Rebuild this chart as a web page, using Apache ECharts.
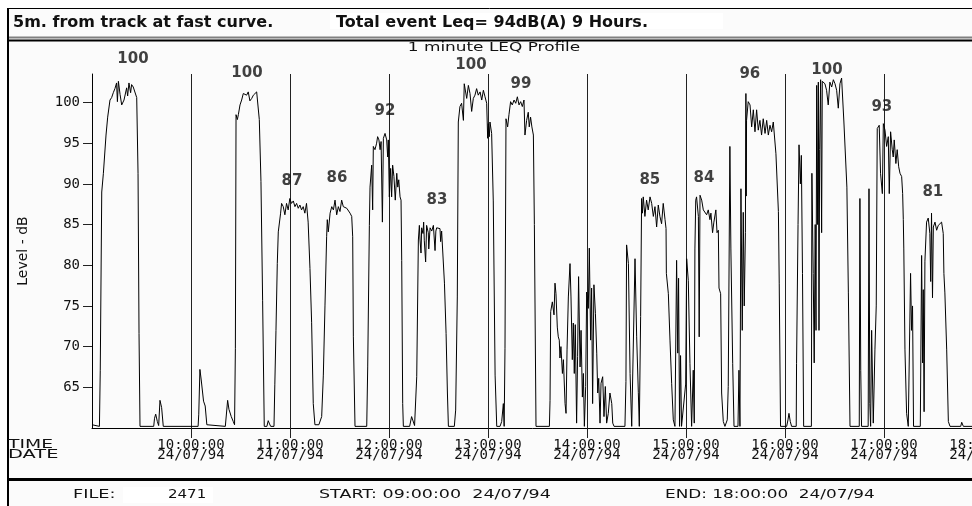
<!DOCTYPE html>
<html>
<head>
<meta charset="utf-8">
<title>1 minute LEQ Profile</title>
<script src="https://cdn.jsdelivr.net/npm/echarts@6/dist/echarts.min.js"></script>
<style>
	html, body { margin: 0; padding: 0; background: #fff; }
	#chart { width: 972px; height: 506px; }
</style>
</head>
<body>
<div id="chart"></div>
<script>
// minutes after 09:00:00, 1 minute Leq in dB(A)
const leqProfile = [
	[0, 60.4], [1, 60.2], [4.5, 60.2], [5, 67.1], [5.9, 89.0], [6.9, 91.3], [8.5, 96.0], [9.5, 98.2], [10.9, 100.3],
	[11.9, 100.6], [12.9, 101.2], [13.9, 101.7], [14.9, 102.4], [15.4, 100.1], [16, 102.6], [17, 101.0], [18, 99.7],
	[19.4, 100.3], [21, 101.8], [21.6, 100.8], [22.4, 102.4], [23.4, 101.2], [24, 102.2], [25, 101.9], [26, 101.8],
	[27.1, 100.6], [27.9, 91.3], [28.5, 71.6], [29.1, 60.2],
	[37.4, 60.2], [37.9, 61.2], [38.6, 61.7], [39.6, 60.8], [40.4, 60.3], [41.2, 63.4], [42.2, 62.5], [43.2, 60.2],
	[64.3, 60.2], [64.7, 61.7], [65.4, 67.2], [66.2, 65.9], [67.6, 63.3], [68.6, 62.7], [69.6, 60.4], [70.5, 60.2],
	[80.8, 60.2], [82.2, 63.4], [83.0, 62.3], [84.4, 61.4], [85.6, 60.8], [86.4, 60.4],
	[86.9, 69.8], [87.3, 98.5], [88.1, 97.9], [88.7, 98.5], [89.7, 99.7], [90.7, 100.3], [91.7, 101.1], [92.7, 101.3],
	[93.7, 100.9], [94.7, 101.3], [95.7, 100.2], [96.8, 100.5], [97.8, 100.9], [98.8, 101.1], [99.8, 101.3],
	[100.8, 101.5], [101.4, 97.9], [102.4, 90.3], [103.4, 75.7], [104.4, 60.2],
	[106, 60.2], [106.8, 60.9], [107.6, 60.5], [108.3, 60.2],
	[110.3, 60.2], [110.8, 65.3], [111.5, 72.0], [112.3, 80.2], [112.9, 84.1], [114.3, 86.4], [114.9, 87.6],
	[115.9, 87.2], [116.9, 86.2], [117.9, 87.6], [118.9, 86.8], [119.9, 88.2], [120.9, 87.6], [122, 87.9], [123, 87.2],
	[124, 87.6], [125, 87.0], [126, 87.4], [127, 86.8], [128, 87.2], [129, 86.4], [130, 87.6], [131, 85.3],
	[131.7, 85.3], [132.1, 79.6], [133.1, 73.0], [134.1, 63.0], [135.1, 60.4], [136, 60.2], [137.5, 60.4], [138.5, 60.2],
	[139.2, 61.4], [140.2, 66.5], [141.2, 75.0], [142.2, 83.5], [142.6, 85.6], [143.2, 84.1], [144.3, 86.4],
	[145.3, 87.2], [146.3, 86.8], [147.3, 88.0], [148.3, 86.2], [149.3, 87.2], [150.3, 86.6], [151.3, 88.0],
	[152.3, 87.2], [153.3, 87.4], [154.4, 87.0], [155.4, 86.8], [156.4, 86.4], [157.4, 86.0], [158.0, 83.5],
	[158.4, 71.2], [159.4, 60.2], [166.5, 60.2],
	[167.1, 67.5], [168.1, 84.9], [168.5, 89.6], [169.5, 92.3], [170.1, 86.8], [170.5, 94.6], [171.5, 94.2],
	[172.5, 95.0], [173.1, 95.8], [173.9, 95.4], [174.6, 94.2], [175.2, 95.2], [176.0, 85.3], [176.6, 95.6],
	[177.6, 96.2], [178.6, 95.4], [179.2, 93.3], [179.6, 95.4], [180.2, 88.4], [181.0, 91.9], [181.6, 88.4],
	[182.2, 92.3], [183.0, 90.9], [183.8, 88.0], [184.7, 91.3], [185.3, 89.6], [185.9, 90.5], [186.7, 88.4],
	[187.3, 88.0], [187.7, 80.6], [188.3, 63.0], [188.7, 60.2],
	[192.5, 60.2], [193.7, 61.4], [194.5, 61.2], [195.5, 60.3], [196.3, 60.2],
	[196.8, 66.3], [197.8, 83.1], [198.4, 84.9], [198.8, 83.1], [199.4, 81.5], [199.8, 84.6], [200.6, 83.9],
	[201.0, 85.3], [201.4, 83.0], [202.2, 80.4], [202.8, 84.9], [203.8, 84.0], [204.1, 82.0], [204.9, 84.6],
	[205.9, 84.2], [206.9, 84.9], [207.9, 81.8], [208.4, 84.2], [208.9, 84.6], [209.9, 84.4], [210.9, 84.5],
	[211.3, 82.9], [211.9, 84.2], [212.9, 84.0], [213.6, 77.8], [214.6, 71.6], [215.4, 64.3], [216, 60.2],
	[219.6, 60.2], [220.4, 62.2], [221.4, 76.1],
	[222, 97.6], [223, 99.5], [224, 99.9], [225.1, 97.8], [225.6, 102.3], [226.4, 102.1], [227.1, 100.5],
	[228.1, 102.1], [229.1, 101.1], [230.1, 98.9], [231.1, 100.5], [232.1, 100.9], [233.1, 101.7], [234.1, 100.9],
	[235.2, 101.3], [236.2, 100.3], [237.2, 101.5], [238.2, 100.7], [239.2, 99.9], [239.8, 95.6], [240.2, 97.4],
	[240.8, 95.8], [241.2, 97.6], [242.2, 96.2], [243.2, 87.9], [244.3, 66.5], [245.3, 60.2],
	[247.3, 60.2], [248.3, 60.8], [249.3, 63.0], [249.8, 60.2],
	[250.3, 69.8], [250.9, 98.0], [251.9, 97.0], [252.7, 98.5], [253.7, 100.1], [254.7, 99.7], [255.8, 100.3],
	[256.8, 99.9], [257.8, 100.7], [258.8, 99.7], [259.8, 100.1], [260.8, 99.5], [261.8, 100.3], [262.4, 96.0],
	[263.4, 97.8], [264.4, 98.8], [265.0, 97.0], [265.8, 98.2], [266.6, 97.0], [267.5, 96.0], [268.1, 85.0],
	[269.1, 60.2], [277.2, 60.2],
	[277.6, 63.4], [278.0, 74.3], [279.0, 75.5], [280.0, 73.9], [280.6, 77.8], [281.2, 76.5], [282.0, 72.4],
	[282.6, 71.2], [283.2, 70.8], [283.6, 68.6], [284.2, 70.0], [285.1, 66.7], [285.7, 68.4], [286.7, 63.0],
	[287.3, 61.8], [287.9, 69.6], [288.7, 76.1], [289.7, 80.2], [290.3, 76.1], [291.1, 68.4], [291.7, 72.9],
	[292.3, 66.7], [292.9, 72.7], [293.7, 60.6], [294.3, 68.8], [294.9, 78.6], [295.8, 67.5], [296.4, 72.0],
	[297.2, 63.8], [297.8, 66.7], [298.4, 60.2], [299.2, 65.1], [299.8, 76.7], [300.8, 74.7], [301.4, 82.1],
	[302.2, 70.8], [302.8, 77.2], [303.4, 63.0], [304.2, 77.6], [305.1, 74.1], [305.9, 69.2], [306.5, 64.3],
	[307.1, 66.1], [307.9, 60.6], [308.5, 65.5], [309.5, 66.3], [310.3, 61.4], [311.1, 65.1], [311.9, 60.6],
	[312.9, 61.8], [313.9, 64.3], [315.0, 63.0], [315.6, 60.6], [316.4, 60.2], [323.0, 60.2],
	[323.6, 65.7], [324.0, 82.5], [325.1, 80.2], [326.1, 66.7], [327.1, 60.2], [328.1, 60.2], [329.1, 80.8],
	[330.1, 71.2], [331.1, 64.4], [331.7, 60.2], [332.5, 73.7], [333.1, 88.2], [333.6, 86.4], [334.1, 88.4],
	[335.1, 86.0], [336.1, 88.0], [337.1, 86.8], [338.2, 88.4], [339.2, 87.6], [340.2, 86.0], [341.2, 87.2],
	[342.2, 84.7], [343.2, 87.4], [344.2, 86.0], [345.2, 85.1], [346.2, 87.6], [347.3, 85.6], [347.9, 84.5],
	[348.1, 79.0], [349.3, 76.5], [350.3, 70.8], [351.3, 65.5], [352.3, 61.0], [353.3, 60.2],
	[354.3, 80.6], [355.0, 69.2], [355.5, 78.4], [356.1, 60.2], [356.7, 68.9], [357.3, 60.2], [359.8, 65.4],
	[360.4, 80.8], [361.4, 78.1], [362.4, 67.9], [363.4, 60.2], [364.4, 67.1], [365.0, 60.6],
	[365.4, 82.0], [365.9, 88.0], [366.4, 88.4], [367.5, 86.0], [368.0, 71.2], [368.5, 88.6], [369.5, 88.0],
	[370.5, 86.8], [371.5, 86.6], [372.5, 86.2], [373.5, 86.8], [374.5, 85.6], [375.1, 86.4], [376.1, 84.0],
	[376.9, 85.3], [378.1, 86.8], [378.8, 84.0], [379.6, 84.3], [380.0, 77.2], [381.0, 76.5], [381.6, 64.3],
	[382.6, 60.8], [383.6, 60.2],
	[385.0, 61.0], [385.6, 65.1], [386.6, 94.6], [387.2, 82.0], [388.3, 67.9], [389.1, 60.2], [391.5, 60.2],
	[392.1, 67.1], [392.7, 60.2], [393.3, 89.4], [394.1, 72.0], [394.7, 86.5], [395.3, 75.0], [396.0, 84.0],
	[396.3, 101.1], [396.5, 88.5], [396.7, 97.8], [397.7, 100.1], [398.8, 99.7], [399.8, 97.0], [400.8, 99.1],
	[401.8, 96.4], [402.8, 99.1], [403.8, 96.6], [404.8, 97.8], [405.8, 96.0], [406.8, 98.0], [407.9, 96.2],
	[408.9, 97.8], [409.9, 96.0], [410.9, 97.2], [411.9, 96.4], [412.9, 97.6], [413.9, 97.8], [414.5, 93.7],
	[416.0, 86.6], [416.5, 77.8], [417.3, 60.2],
	[421.0, 60.2], [421.8, 61.0], [422.4, 61.8], [423.2, 60.8], [424.0, 60.2],
	[426.8, 60.2], [427.0, 67.9], [427.9, 85.0], [428.5, 94.8], [429.3, 90.0], [429.9, 93.5], [430.6, 79.0],
	[431.3, 60.2], [436.0, 60.2], [436.3, 91.3], [437.1, 79.0], [437.7, 68.0], [438.3, 85.0], [438.8, 72.0],
	[439.2, 102.1], [439.8, 85.0], [440.2, 102.5], [440.6, 72.0], [441.0, 94.2], [441.6, 102.8], [442.2, 84.0],
	[442.6, 102.6], [443.2, 102.5], [444.2, 102.3], [445.2, 101.5], [446.2, 99.7], [447.2, 102.5], [448.3, 101.9],
	[449.3, 102.8], [450.3, 102.3], [451.3, 101.5], [452.3, 99.3], [453.3, 102.3], [454.3, 103.0], [455.3, 103.2],
	[455.7, 97.6], [456.7, 97.4], [457.5, 89.6], [458.4, 76.6], [459.4, 60.2],
	[465.0, 60.2], [465.4, 88.2], [465.9, 67.1], [466.4, 60.2], [470.4, 60.2], [470.9, 89.4], [471.4, 63.0],
	[471.9, 60.2], [472.5, 72.0], [473.5, 60.6], [474.5, 69.6], [475.3, 75.0],
	[475.9, 96.8], [477.1, 97.2], [477.9, 91.3], [479.0, 88.8], [479.6, 97.4], [480.6, 96.6], [481.6, 94.6],
	[482.6, 95.8], [483.2, 88.8], [484.0, 96.4], [485.0, 94.2], [485.6, 93.3], [486.2, 95.4], [487.2, 92.5],
	[488.0, 94.2], [488.9, 92.1], [489.7, 91.3], [490.7, 90.9], [491.3, 88.8], [491.7, 85.6], [492.0, 82.0],
	[492.7, 69.6], [493.7, 61.8], [494.7, 60.2],
	[495.5, 60.2], [496.1, 79.0], [496.7, 72.0], [497.3, 75.0], [497.9, 60.2], [502.0, 60.2], [502.8, 81.2],
	[503.4, 68.0], [503.8, 77.0], [504.3, 62.0], [504.8, 80.5],
	[505.8, 85.3], [506.8, 85.8], [507.8, 83.9], [508.3, 78.0], [508.8, 86.4], [509.4, 76.0], [509.9, 84.7],
	[510.9, 85.3], [511.9, 84.3], [512.9, 84.9], [513.9, 84.7], [514.9, 85.3], [515.9, 83.9],
	[516.3, 79.0], [516.9, 76.6], [518.0, 69.6], [519.0, 60.8], [520.0, 60.2], [526.5, 60.2], [527.1, 60.7],
	[528.1, 60.2], [540, 60.2]
];

// Leq of each passing event, printed above its peak (minute, dB where the number sits)
const eventLeq = ['100', '100', '87', '86', '92', '83', '100', '99', '85', '84', '96', '100', '93', '81'];
const eventLabelAt = [
	[24.8, 105.3], [93.9, 103.6], [121.2, 90.3], [148.5, 90.7], [177.6, 98.9], [209.1, 88.0], [229.7, 104.6],
	[260.0, 102.3], [338.1, 90.5], [370.9, 90.7], [398.7, 103.5], [445.4, 104.0], [478.7, 99.4], [509.6, 89.0]
];

const hourLabels = ['09:00:00', '10:00:00', '11:00:00', '12:00:00', '13:00:00', '14:00:00', '15:00:00', '16:00:00', '17:00:00', '18:00:00'];
const hourTicks = [60, 120, 180, 240, 300, 360, 420, 480, 540];
const dateLabel = '24/07/94';
const levelTicks = [65, 70, 75, 80, 85, 90, 95, 100];

const headerLeft = '5m. from track at fast curve.';
const headerRight = 'Total event Leq= 94dB(A) 9 Hours.';
const fileNo = '2471';
const startText = 'START: 09:00:00  24/07/94';
const endText = 'END: 18:00:00  24/07/94';

const INK = '#111';
const SANS = '"DejaVu Sans", sans-serif';
const MONO = '"DejaVu Sans Mono", monospace';

let chart = echarts.init(document.getElementById('chart'), null, {renderer: 'canvas'});

// the printout's system font is wide and short, so plain text gets stretched sideways
let txt = (text, x, y, sx, style) => ({
	type: 'text',
	x: x, y: y, z: 50, scaleX: sx || 1,
	style: Object.assign({text: text, fill: INK, font: '12.5px ' + SANS, textVerticalAlign: 'middle'}, style || {})
});
let hline = (y, w, color) => ({
	type: 'line', z: 40,
	shape: {x1: 7, y1: y, x2: 972, y2: y},
	style: {stroke: color || '#000', lineWidth: w}
});

let option = {
	animation: false,
	backgroundColor: '#fbfbfb',
	// the printout runs on past 18:00, so the plot is allowed to leave the page on the right
	grid: {left: 92, top: 74, width: 891, height: 354, outerBoundsMode: 'none', containLabel: false},
	xAxis: {
		type: 'value', min: 0, max: 540, interval: 60,
		axisLine: {lineStyle: {color: '#000', width: 1}},
		axisTick: {length: 10, customValues: hourTicks, lineStyle: {color: '#222'}},
		axisLabel: {
			customValues: hourTicks,
			formatter: v => hourLabels[Math.round(v / 60)] + '\n' + dateLabel,
			color: INK, fontFamily: MONO, fontSize: 14, lineHeight: 10, margin: 12
		},
		splitLine: {show: true, lineStyle: {color: '#222', width: 1}}
	},
	yAxis: {
		type: 'value', min: 60, max: 103.5, interval: 5,
		name: 'Level - dB', nameLocation: 'middle', nameGap: 62, nameRotate: 90,
		nameTextStyle: {color: INK, fontFamily: SANS, fontSize: 14},
		axisLine: {show: true, lineStyle: {color: '#000', width: 1}},
		axisTick: {show: true, length: 9, customValues: levelTicks, lineStyle: {color: '#222'}},
		axisLabel: {customValues: levelTicks, color: INK, fontFamily: MONO, fontSize: 14, margin: 12},
		splitLine: {show: false}
	},
	graphic: [
		{type: 'rect', z: 30, shape: {x: 0, y: 0, width: 972, height: 8}, style: {fill: '#fff'}},
		{type: 'rect', z: 30, shape: {x: 0, y: 0, width: 7, height: 506}, style: {fill: '#fff'}},
		{type: 'rect', z: 35, shape: {x: 330, y: 13, width: 393, height: 16}, style: {fill: '#fff'}},
		{type: 'rect', z: 35, shape: {x: 123, y: 487, width: 90, height: 16}, style: {fill: '#fff'}},
		hline(8.5, 1),
		hline(37.5, 2, '#808080'),
		hline(40.5, 2),
		hline(479.5, 3),
		{type: 'line', z: 40, shape: {x1: 8, y1: 8, x2: 8, y2: 506}, style: {stroke: '#000', lineWidth: 2}},
		txt(headerLeft, 13, 23, 1, {font: 'bold 16px ' + SANS}),
		txt(headerRight, 336, 23, 1, {font: 'bold 16px ' + SANS}),
		txt('1 minute LEQ Profile', 494, 48, 1.3, {font: '13px ' + SANS, textAlign: 'center'}),
		txt('TIME', 8, 445, 1.5),
		txt('DATE', 8, 455, 1.55),
		txt('FILE:', 73, 495, 1.42),
		txt(fileNo, 168, 495, 1.2),
		txt(startText, 319, 495, 1.4),
		txt(endText, 665, 495, 1.35)
	],
	series: [
		{
			type: 'line',
			data: leqProfile,
			showSymbol: false,
			lineStyle: {color: '#000', width: 1},
			z: 5
		},
		{
			type: 'scatter',
			data: eventLabelAt.map((p, i) => ({value: p, name: eventLeq[i]})),
			symbolSize: 1,
			itemStyle: {color: 'rgba(0,0,0,0)'},
			clip: false,
			silent: true,
			label: {
				show: true, position: 'inside', formatter: p => p.name,
				color: INK, fontFamily: SANS, fontWeight: 'bold', fontSize: 15
			},
			z: 6
		}
	]
};
chart.setOption(option);
</script>
</body>
</html>
